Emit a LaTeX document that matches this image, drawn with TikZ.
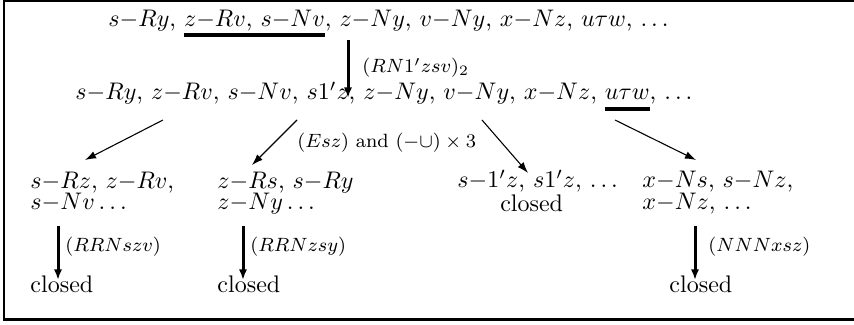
\documentclass[tikz,border=0pt]{standalone}
\usetikzlibrary{arrows.meta}
\newlength{\ulw}
\newcommand{\myulA}[1]{\settowidth{\ulw}{#1}\rlap{\rule[-4.0pt]{\ulw}{1.4pt}}#1}
\newcommand{\myulB}[1]{\settowidth{\ulw}{#1}\rlap{\rule[-4.4pt]{\ulw}{1.4pt}}#1}
\newcommand{\twol}[3]{\vtop{\baselineskip=#1\lineskiplimit=-50pt\lineskip=0pt\hbox{#2}\hbox{#3}}}
\newcommand{\twoc}[3]{\vtop{\baselineskip=#1\lineskiplimit=-50pt\lineskip=0pt\halign{\hfil##\hfil\cr #2\cr #3\cr}}}
\begin{document}
\begin{tikzpicture}[x=0.416667pt,y=-0.416667pt,
  txt/.style={inner sep=0pt,anchor=base west},
  lbl/.style={inner sep=0pt,anchor=base west,font=\footnotesize},
  thickarrow/.style={line width=1.25pt,-{Latex[length=4.4pt,width=3.4pt]}},
  thinarrow/.style={line width=0.45pt,-{Latex[length=4.6pt,width=3.2pt]}}]
\useasboundingbox (0,0) rectangle (854,325);
% frame (cut on the right)
\draw[line width=1.1pt] (900,1) -- (4,1) -- (4,319.5) -- (900,319.5);
% main lines
\node[txt] (L1) at (108,27) {$s{-}Ry$, \myulA{$z{-}Rv$, $s{-}Nv$}, $z{-}Ny$, $v{-}Ny$, $x{-}Nz$, $u\tau w$, $\ldots$};
\node[txt] (L2) at (75,100) {$s{-}Ry$, $z{-}Rv$, $s{-}Nv$, $s1'z$, $z{-}Ny$, $v{-}Ny$, $x{-}Nz$, \myulB{$u\tau w$}, $\ldots$};
% children
\node[txt] (C1) at (30,188.5) {\twol{8.8pt}{$s{-}Rz$, $z{-}Rv$,}{$s{-}Nv\ldots$}};
\node[txt] (C2) at (217,188.5) {\twol{8.8pt}{$z{-}Rs$, $s{-}Ry$}{$z{-}Ny\ldots$}};
\node[txt] (C3) at (457,188) {\twoc{9.6pt}{$s{-}1'z$, $s1'z$, $\ldots$}{closed\kern5pt}};
\node[txt] (C4) at (642,188) {\twol{8.8pt}{$x{-}Ns$, $s{-}Nz$,}{$x{-}Nz$, $\ldots$}};
% closed leaves
\node[txt] (D1) at (30,293) {closed};
\node[txt] (D2) at (217,293) {closed};
\node[txt] (D4) at (669,293) {closed};
% labels
\node[lbl] (T0) at (362,73) {$(RN1'zsv)_2$};
\node[lbl] (T1) at (297,148) {$(Esz)$ and $(-\cup)\times 3$};
\node[lbl] (T2) at (65,252) {$(RRNszv)$};
\node[lbl] (T3) at (250,252) {$(RRNzsy)$};
\node[lbl] (T4) at (708,252) {$(NNNxsz)$};
% connector ends
\coordinate (L1s) at (348,40);
\coordinate (L2n) at (348,98);
\coordinate (L2a) at (163,120);
\coordinate (C1n) at (85,160);
\coordinate (L2b) at (297,120);
\coordinate (C2n) at (252,165);
\coordinate (L2c) at (482,120);
\coordinate (C3n) at (528,173);
\coordinate (L2d) at (615,120);
\coordinate (C4n) at (696,160);
\coordinate (C1s) at (58,226);
\coordinate (D1n) at (58,280);
\coordinate (C2s) at (243,226);
\coordinate (D2n) at (243,280);
\coordinate (C4s) at (695,226);
\coordinate (D4n) at (695,280);
% connectors
\draw[thickarrow] (L1s) -- (L2n);
\draw[thinarrow] (L2a) -- (C1n);
\draw[thinarrow] (L2b) -- (C2n);
\draw[thinarrow] (L2c) -- (C3n);
\draw[thinarrow] (L2d) -- (C4n);
\draw[thickarrow] (C1s) -- (D1n);
\draw[thickarrow] (C2s) -- (D2n);
\draw[thickarrow] (C4s) -- (D4n);
\end{tikzpicture}
\end{document}
